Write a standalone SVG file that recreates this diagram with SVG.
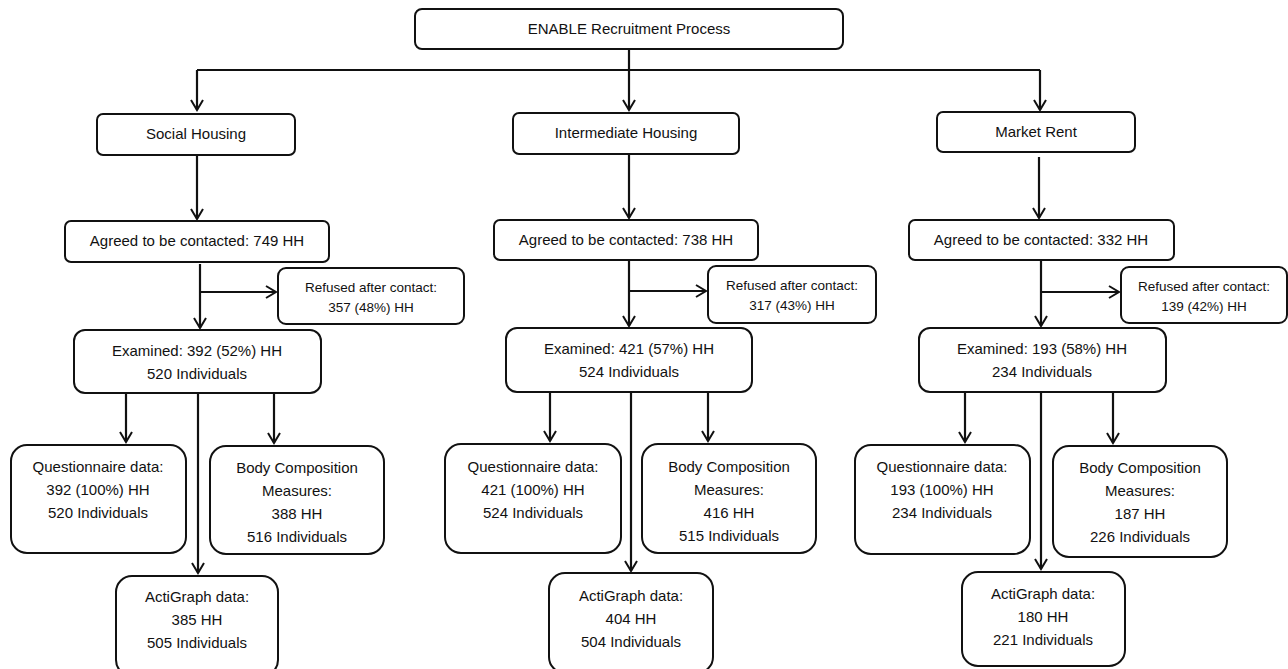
<svg xmlns="http://www.w3.org/2000/svg" width="1288" height="669" viewBox="0 0 1288 669">
<style>
.box{fill:#fff;stroke:#111;stroke-width:2}
.t{font-family:"Liberation Sans",Arial,sans-serif;font-size:15px;fill:#111;text-anchor:middle}
.s{font-family:"Liberation Sans",Arial,sans-serif;font-size:13.5px;fill:#111;text-anchor:middle}
.c{fill:none;stroke:#111;stroke-width:2.2}
</style>
<defs>
<marker id="ah" markerUnits="userSpaceOnUse" markerWidth="16" markerHeight="16" refX="11" refY="8" orient="auto">
<path d="M1,2 L11,8 L1,14" fill="none" stroke="#111" stroke-width="2"/>
</marker>
</defs>
<rect width="1288" height="669" fill="#fff"/>
<g id="connectors">
<path class="c" d="M629,49 V110" marker-end="url(#ah)"/>
<path class="c" d="M197,70 H1040"/>
<path class="c" d="M197,70 V110" marker-end="url(#ah)"/>
<path class="c" d="M1040,70 V110" marker-end="url(#ah)"/>
<path class="c" d="M197,155 V219" marker-end="url(#ah)"/>
<path class="c" d="M629,154 V218" marker-end="url(#ah)"/>
<path class="c" d="M1039,157 V218" marker-end="url(#ah)"/>
<path class="c" d="M200,264 V328" marker-end="url(#ah)"/>
<path class="c" d="M200,292 H276" marker-end="url(#ah)"/>
<path class="c" d="M629,261 V326" marker-end="url(#ah)"/>
<path class="c" d="M629,291 H706" marker-end="url(#ah)"/>
<path class="c" d="M1041,261 V326" marker-end="url(#ah)"/>
<path class="c" d="M1041,292 H1119" marker-end="url(#ah)"/>
<path class="c" d="M126,393 V442" marker-end="url(#ah)"/>
<path class="c" d="M274,393 V443" marker-end="url(#ah)"/>
<path class="c" d="M198,393 V573" marker-end="url(#ah)"/>
<path class="c" d="M550,392 V441" marker-end="url(#ah)"/>
<path class="c" d="M708,391 V441" marker-end="url(#ah)"/>
<path class="c" d="M631,392 V571" marker-end="url(#ah)"/>
<path class="c" d="M965,392 V442" marker-end="url(#ah)"/>
<path class="c" d="M1113,392 V443" marker-end="url(#ah)"/>
<path class="c" d="M1041,392 V569" marker-end="url(#ah)"/>
</g>
<g id="n-top"><rect class="box" x="415" y="9" width="428" height="40" rx="7"/><text class="t" x="629" y="34">ENABLE Recruitment Process</text></g>
<g id="n-social"><rect class="box" x="97" y="114" width="198" height="41" rx="6"/><text class="t" x="196" y="139">Social Housing</text></g>
<g id="n-inter"><rect class="box" x="513" y="113" width="226" height="41" rx="6"/><text class="t" x="626" y="138">Intermediate Housing</text></g>
<g id="n-market"><rect class="box" x="937" y="112" width="198" height="40" rx="6"/><text class="t" x="1036" y="137">Market Rent</text></g>
<g id="n-agree1"><rect class="box" x="65" y="221" width="264" height="41" rx="6"/><text class="t" x="197" y="246">Agreed to be contacted: 749 HH</text></g>
<g id="n-agree2"><rect class="box" x="494" y="220" width="264" height="40" rx="6"/><text class="t" x="626" y="245">Agreed to be contacted: 738 HH</text></g>
<g id="n-agree3"><rect class="box" x="909" y="220" width="265" height="40" rx="6"/><text class="t" x="1041" y="245">Agreed to be contacted: 332 HH</text></g>
<g id="n-ref1"><rect class="box" x="278" y="268" width="186" height="56" rx="8"/><text class="s" x="371" y="292">Refused after contact:</text><text class="s" x="371" y="312">357 (48%) HH</text></g>
<g id="n-ref2"><rect class="box" x="708" y="266" width="168" height="57" rx="8"/><text class="s" x="792" y="290">Refused after contact:</text><text class="s" x="792" y="310">317 (43%) HH</text></g>
<g id="n-ref3"><rect class="box" x="1121" y="267" width="166" height="56" rx="8"/><text class="s" x="1204" y="291">Refused after contact:</text><text class="s" x="1204" y="311">139 (42%) HH</text></g>
<g id="n-exam1"><rect class="box" x="74" y="330" width="247" height="63" rx="11"/><text class="t" x="197" y="356">Examined: 392 (52%) HH</text><text class="t" x="197" y="379">520 Individuals</text></g>
<g id="n-exam2"><rect class="box" x="506" y="328" width="246" height="64" rx="11"/><text class="t" x="629" y="354">Examined: 421 (57%) HH</text><text class="t" x="629" y="377">524 Individuals</text></g>
<g id="n-exam3"><rect class="box" x="919" y="328" width="247" height="64" rx="11"/><text class="t" x="1042" y="354">Examined: 193 (58%) HH</text><text class="t" x="1042" y="377">234 Individuals</text></g>
<g id="n-q1"><rect class="box" x="11" y="445" width="175" height="108" rx="16"/><text class="t" x="98" y="472">Questionnaire data:</text><text class="t" x="98" y="495">392 (100%) HH</text><text class="t" x="98" y="518">520 Individuals</text></g>
<g id="n-b1"><rect class="box" x="210" y="446" width="174" height="108" rx="16"/><text class="t" x="297" y="473">Body Composition</text><text class="t" x="297" y="496">Measures:</text><text class="t" x="297" y="519">388 HH</text><text class="t" x="297" y="542">516 Individuals</text></g>
<g id="n-a1"><rect class="box" x="116" y="576" width="162" height="100" rx="16"/><text class="t" x="197" y="602">ActiGraph data:</text><text class="t" x="197" y="625">385 HH</text><text class="t" x="197" y="648">505 Individuals</text></g>
<g id="n-q2"><rect class="box" x="445" y="444" width="176" height="109" rx="16"/><text class="t" x="533" y="472">Questionnaire data:</text><text class="t" x="533" y="495">421 (100%) HH</text><text class="t" x="533" y="518">524 Individuals</text></g>
<g id="n-b2"><rect class="box" x="642" y="444" width="174" height="109" rx="16"/><text class="t" x="729" y="472">Body Composition</text><text class="t" x="729" y="495">Measures:</text><text class="t" x="729" y="518">416 HH</text><text class="t" x="729" y="541">515 Individuals</text></g>
<g id="n-a2"><rect class="box" x="549" y="573" width="164" height="100" rx="16"/><text class="t" x="631" y="601">ActiGraph data:</text><text class="t" x="631" y="624">404 HH</text><text class="t" x="631" y="647">504 Individuals</text></g>
<g id="n-q3"><rect class="box" x="855" y="445" width="175" height="109" rx="16"/><text class="t" x="942" y="472">Questionnaire data:</text><text class="t" x="942" y="495">193 (100%) HH</text><text class="t" x="942" y="518">234 Individuals</text></g>
<g id="n-b3"><rect class="box" x="1053" y="446" width="174" height="111" rx="16"/><text class="t" x="1140" y="473">Body Composition</text><text class="t" x="1140" y="496">Measures:</text><text class="t" x="1140" y="519">187 HH</text><text class="t" x="1140" y="542">226 Individuals</text></g>
<g id="n-a3"><rect class="box" x="962" y="572" width="163" height="94" rx="16"/><text class="t" x="1043" y="599">ActiGraph data:</text><text class="t" x="1043" y="622">180 HH</text><text class="t" x="1043" y="645">221 Individuals</text></g>
</svg>
